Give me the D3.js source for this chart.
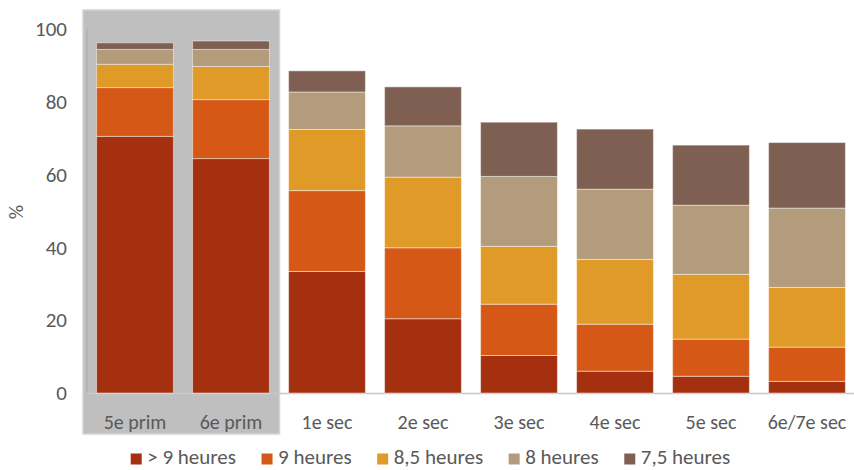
<!DOCTYPE html>
<html>
<head>
<meta charset="utf-8">
<script src="https://cdn.jsdelivr.net/npm/d3@7"></script>
<style>
  html, body { margin: 0; padding: 0; background: #fff; }
  svg { display: block; font-family: Carlito, Lato, sans-serif; }
</style>
</head>
<body>
<svg id="chart" width="854" height="470"></svg>
<script>
// School years (primary, then secondary)
const categories = ["5e prim", "6e prim", "1e sec", "2e sec", "3e sec", "4e sec", "5e sec", "6e/7e sec"];

// Share of pupils (%) by nightly sleep duration
const series = ["> 9 heures", "9 heures", "8,5 heures", "8 heures", "7,5 heures"];
const over9h  = [70.5, 64.4, 33.4, 20.4, 10.3,  6.0,  4.6,  3.2];
const h9      = [13.4, 16.2, 22.2, 19.5, 14.1, 12.9, 10.2,  9.4];
const h8_5    = [ 6.4,  9.1, 16.8, 19.4, 15.9, 17.8, 17.8, 16.4];
const h8      = [ 4.1,  4.7, 10.3, 14.1, 19.2, 19.3, 19.0, 21.8];
const h7_5    = [ 1.8,  2.3,  5.8, 10.7, 14.9, 16.5, 16.5, 18.0];

const yTicks = [0, 20, 40, 60, 80, 100];
const highlighted = ["5e prim", "6e prim"];

const colors = ["#a4300f", "#d55817", "#e09a27", "#b39c7c", "#7f5f51"];
const values = [over9h, h9, h8_5, h8, h7_5];

const rows = categories.map((c, i) => {
  const r = { cat: c };
  series.forEach((s, k) => { r[s] = values[k][i]; });
  return r;
});

const svg = d3.select("#chart");
const textColor = "#595959";
const fontFamily = "Carlito, Lato, sans-serif";

const x = d3.scaleBand().domain(categories).range([87, 855]).paddingInner(0.2).paddingOuter(0.1);
const y = d3.scaleLinear().domain([0, 100]).range([393, 29]);

// grey panel behind the primary-school columns
const hx0 = x(highlighted[0]) - x.step() * x.paddingInner() / 2 - 4;
const hx1 = x(highlighted[highlighted.length - 1]) + x.bandwidth() + x.step() * x.paddingInner() / 2 + 0.5;
svg.append("rect")
  .attr("x", hx0).attr("y", 10)
  .attr("width", hx1 - hx0).attr("height", 424)
  .attr("fill", "#bfbfbf")
  .attr("stroke", "#d4d4d4").attr("stroke-width", 1.5);

// axis lines
svg.append("line")
  .attr("x1", 87).attr("x2", 87).attr("y1", y(100)).attr("y2", y(0))
  .attr("stroke", "#a9a9a9").attr("stroke-width", 1);
svg.append("line")
  .attr("x1", 87).attr("x2", 854).attr("y1", y(0) + 0.5).attr("y2", y(0) + 0.5)
  .attr("stroke", "#c8c8c8").attr("stroke-width", 1.5);

// stacked bars
const stack = d3.stack().keys(series)(rows);
svg.append("g").selectAll("g")
  .data(stack).join("g")
  .attr("fill", (d, i) => colors[i])
  .selectAll("rect")
  .data(d => d).join("rect")
  .attr("x", d => x(d.data.cat))
  .attr("width", x.bandwidth())
  .attr("y", d => y(d[1]))
  .attr("height", d => y(d[0]) - y(d[1]))
  .attr("stroke", "rgba(255,255,255,0.45)")
  .attr("stroke-width", 1);

// y tick labels
const yAxis = d3.axisLeft(y).tickValues(yTicks).tickSize(0).tickPadding(0);
const gy = svg.append("g").attr("transform", "translate(67,0)").call(yAxis);
gy.select(".domain").remove();
gy.attr("font-family", null).attr("font-size", null);
gy.selectAll("text").attr("fill", textColor)
  .style("font-size", "21px").style("font-family", fontFamily);

// category labels
const xAxis = d3.axisBottom(x).tickSize(0).tickPadding(0);
const gx = svg.append("g").attr("transform", "translate(0,0)").call(xAxis);
gx.select(".domain").remove();
gx.attr("font-family", null).attr("font-size", null);
gx.selectAll("text").attr("fill", textColor)
  .attr("y", 429).attr("dy", null)
  .style("font-size", "20px").style("font-family", fontFamily);

// y axis title
svg.append("text")
  .attr("transform", "translate(23,212) rotate(-90)")
  .attr("text-anchor", "middle")
  .attr("fill", textColor)
  .style("font-size", "20px")
  .text("%");

// legend
const legend = svg.append("g");
let lx = 0;
series.forEach((s, i) => {
  const g = legend.append("g").attr("transform", `translate(${lx},0)`);
  g.append("rect").attr("x", 0).attr("y", 453.5).attr("width", 11).attr("height", 11).attr("fill", colors[i]);
  const t = g.append("text").attr("x", 16.5).attr("y", 463.5)
    .attr("fill", textColor).style("font-size", "21px").text(s);
  lx += 16.5 + t.node().getComputedTextLength() + 25.5;
});
const legendWidth = lx - 25.5;
legend.attr("transform", `translate(${430.5 - legendWidth / 2},0)`);
</script>
</body>
</html>
